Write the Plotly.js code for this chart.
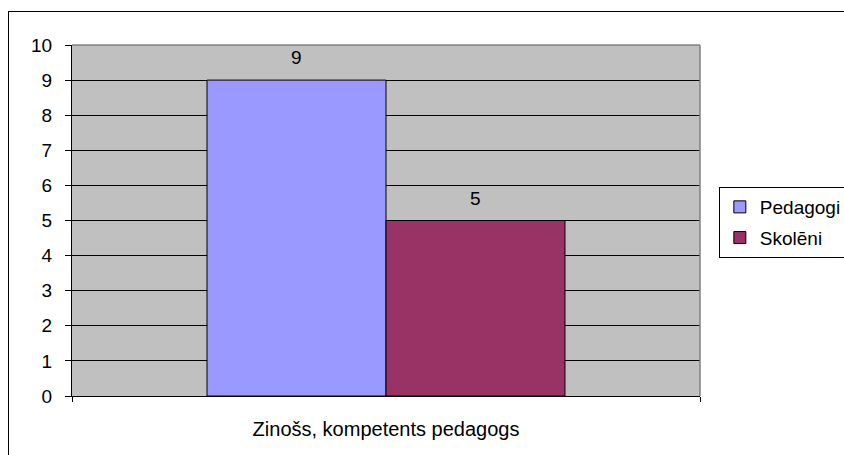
<!DOCTYPE html>
<html>
<head>
<meta charset="utf-8">
<script src="https://cdn.plot.ly/plotly-3.0.1.min.js"></script>
<style>
  html, body { margin: 0; padding: 0; background: #fff; }
  #wrap { position: relative; width: 844px; height: 455px; overflow: hidden; }
  #chart { position: absolute; left: 0; top: 0; width: 844px; height: 455px; }
  #frame { position: absolute; left: 8px; top: 11px; width: 900px; height: 500px;
           border: 1px solid #000; pointer-events: none; z-index: 5; }
</style>
</head>
<body>
<div id="wrap">
  <div id="chart"></div>
  <div id="frame"></div>
</div>
<script>
const categories = ["Zinošs, kompetents pedagogs"];
const seriesNames = ["Pedagogi", "Skolēni"];
const pedagogi = [9];
const skoleni = [5];
const yTicks = [0, 1, 2, 3, 4, 5, 6, 7, 8, 9, 10];

const FONT = "Liberation Sans, Arial, sans-serif";
const bargap = 0.43;

const traces = [
  { type: "bar", name: seriesNames[0], x: categories, y: pedagogi, legendgroup: "a",
    marker: { color: "#9999ff", line: { color: "#000", width: 1 } }, hoverinfo: "none" },
  { type: "bar", name: seriesNames[1], x: categories, y: skoleni, legendgroup: "b",
    marker: { color: "#993366", line: { color: "#000", width: 1 } }, hoverinfo: "none" }
];

const off = (1 - bargap) / 4;
const annotations = [];
[pedagogi, skoleni].forEach((vals, s) => {
  vals.forEach((v, i) => {
    annotations.push({
      xref: "x", yref: "y", x: i + (s === 0 ? -off : off), y: v,
      text: String(v), showarrow: false, yanchor: "bottom", yshift: 10,
      font: { family: FONT, size: 19, color: "#000" }
    });
  });
});

const layout = {
  width: 844, height: 455,
  margin: { l: 72, r: 144, t: 45, b: 59, pad: 0, autoexpand: false },
  paper_bgcolor: "#ffffff",
  plot_bgcolor: "#c0c0c0",
  barmode: "group",
  bargap: bargap,
  bargroupgap: 0,
  showlegend: true,
  font: { family: FONT, size: 19, color: "#000" },
  xaxis: {
    type: "category",
    showline: true, linecolor: "#000", linewidth: 1,
    ticks: "outside", ticklen: 5, tickcolor: "#000", tickson: "boundaries",
    ticklabelstandoff: 15,
    showgrid: false, zeroline: false,
    tickfont: { family: FONT, size: 20, color: "#000" },
    fixedrange: true
  },
  yaxis: {
    range: [0, 10], tickvals: yTicks, ticktext: yTicks.map(String),
    showline: true, linecolor: "#000", linewidth: 1,
    ticks: "outside", ticklen: 6, tickcolor: "#000",
    ticklabelstandoff: 9,
    showgrid: true, gridcolor: "#000", gridwidth: 1,
    zeroline: false,
    tickfont: { family: FONT, size: 19, color: "#000" },
    fixedrange: true
  },
  legend: {
    x: 1.03, xanchor: "left", y: 0.5954, yanchor: "top",
    bordercolor: "#000", borderwidth: 1, bgcolor: "#fff",
    traceorder: "grouped", tracegroupgap: 3,
    font: { family: FONT, size: 19, color: "#000" }
  },
  shapes: [
    { type: "line", xref: "paper", yref: "paper", x0: 0, x1: 1, y0: 1, y1: 1,
      line: { color: "#808080", width: 1.5 }, layer: "above" },
    { type: "line", xref: "paper", yref: "paper", x0: 1, x1: 1, y0: 0, y1: 1,
      line: { color: "#808080", width: 1.5 }, layer: "above" }
  ],
  annotations: annotations
};

Plotly.newPlot("chart", traces, layout, { staticPlot: true, displayModeBar: false });
</script>
</body>
</html>
